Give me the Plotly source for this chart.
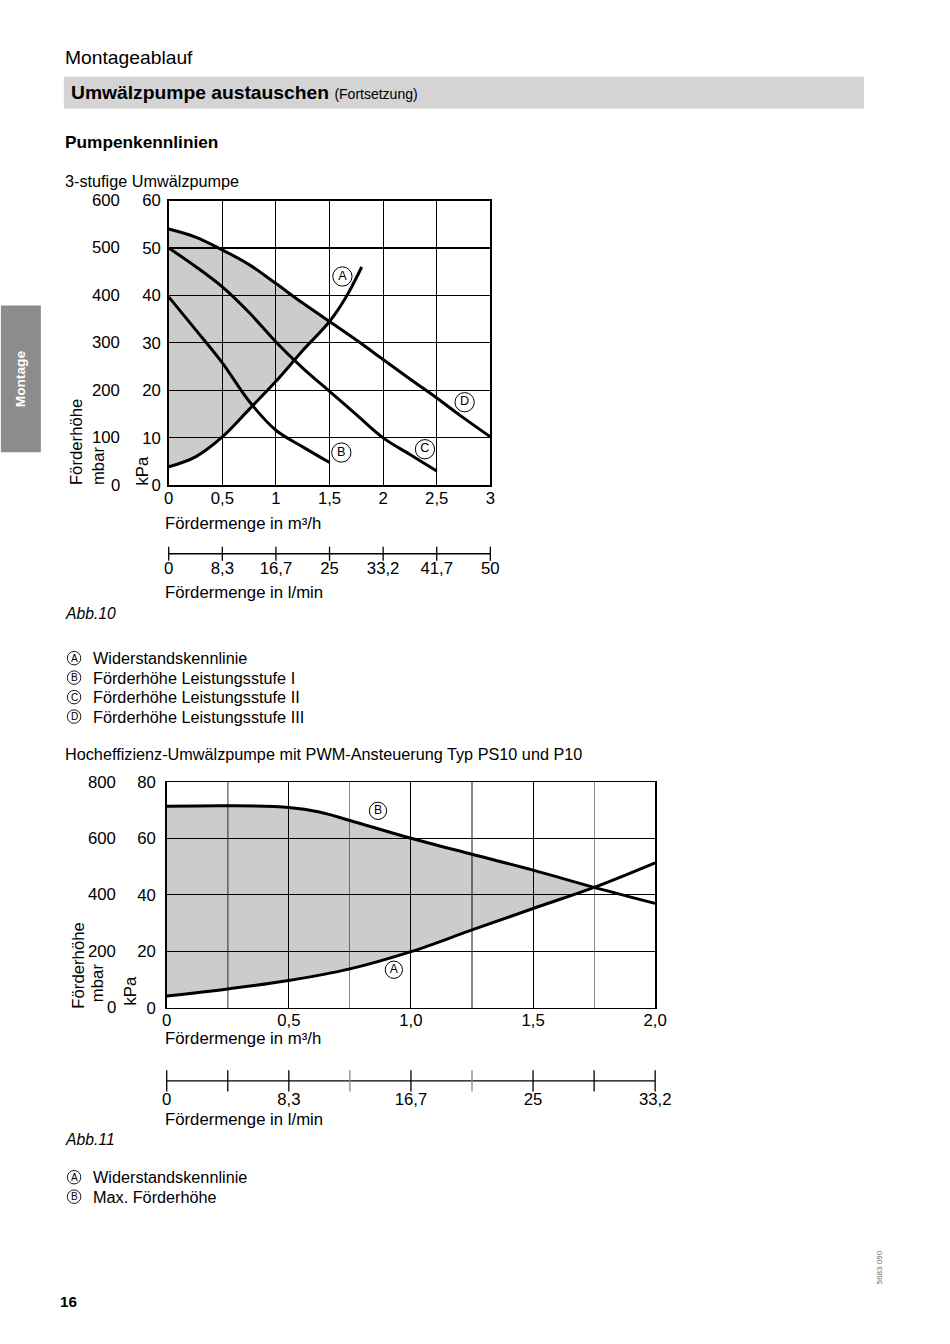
import plotly.graph_objects as go

W, H = 950, 1344
FONT = "Liberation Sans, Arial, Helvetica, sans-serif"

# measured mapping of the page onto the photographed picture (picture = s*page + b)
SX, BX = 0.979, 4.1
SY, BY = 0.9867, 8.3
K = 1.015  # size compensation for the picture scaling


def fx(p):
    return ((p - BX) / SX) / W


def fy(p):
    return 1 - ((p - BY) / SY) / H


# ---------------- Chart 1: 3-stufige Umwälzpumpe ----------------
c1_x_ticks = [0, 0.5, 1, 1.5, 2, 2.5, 3]
c1_x_ticktext = ["0", "0,5", "1", "1,5", "2", "2,5", "3"]
c1_lmin_text = ["0", "8,3", "16,7", "25", "33,2", "41,7", "50"]
c1_kpa_ticks = [0, 10, 20, 30, 40, 50, 60]
c1_mbar_ticks = [0, 100, 200, 300, 400, 500, 600]

a1_flow = [0, 0.25, 0.5, 0.75, 1.0, 1.25, 1.5, 1.65, 1.8]
a1_head = [3.9, 6.0, 10.2, 16.0, 21.9, 28.4, 34.5, 39.5, 46.0]
b1_flow = [0, 0.25, 0.5, 0.75, 1.0, 1.25, 1.5]
b1_head = [39.7, 32.8, 25.8, 17.7, 11.6, 8.1, 4.8]
c1_flow = [0, 0.25, 0.5, 0.75, 1.0, 1.25, 1.5, 1.75, 2.0, 2.25, 2.5]
c1_head = [50.0, 46.1, 41.8, 36.4, 30.2, 24.7, 19.8, 14.9, 10.0, 6.5, 3.0]
d1_flow = [0, 0.25, 0.5, 0.75, 1.0, 1.25, 1.5, 1.75, 2.0, 2.25, 2.5, 2.75, 3.0]
d1_head = [54.0, 52.3, 49.6, 46.5, 42.5, 38.4, 34.5, 30.6, 26.5, 22.4, 18.4, 14.2, 10.2]
c1_fill_n = 7  # points up to the A/D intersection (1.5 m³/h)

c1_labels = ["A", "B", "C", "D"]
c1_label_x = [1.62, 1.61, 2.39, 2.76]
c1_label_y = [44.0, 6.9, 7.6, 17.5]

c1_legend = ["Widerstandskennlinie", "Förderhöhe Leistungsstufe I",
             "Förderhöhe Leistungsstufe II", "Förderhöhe Leistungsstufe III"]

# ---------------- Chart 2: Hocheffizienz-Umwälzpumpe ----------------
c2_x_ticks = [0, 0.5, 1.0, 1.5, 2.0]
c2_x_ticktext = ["0", "0,5", "1,0", "1,5", "2,0"]
c2_lmin_text = ["0", "8,3", "16,7", "25", "33,2"]
c2_lmin_marks = [0, 0.25, 0.5, 0.75, 1.0, 1.25, 1.5, 1.75, 2.0]
c2_light_marks = [0.75, 1.25]
c2_dark_quarter_grid = [0.25]
c2_kpa_ticks = [0, 20, 40, 60, 80]
c2_mbar_ticks = [0, 200, 400, 600, 800]

a2_flow = [0, 0.25, 0.5, 0.75, 1.0, 1.25, 1.5, 1.75, 2.0]
a2_head = [4.2, 6.7, 9.7, 13.8, 19.9, 27.6, 35.2, 42.7, 51.4]
b2_flow = [0, 0.25, 0.5, 0.625, 0.75, 1.0, 1.25, 1.5, 1.75, 2.0]
b2_head = [71.4, 71.6, 71.0, 69.4, 66.4, 60.1, 54.4, 48.8, 42.7, 37.0]
c2_fill_a = 8  # A points up to intersection (1.75)
c2_fill_b = 9  # B points up to intersection (1.75)

c2_labels = ["B", "A"]
c2_label_x = [0.865, 0.93]
c2_label_y = [69.8, 13.5]

c2_legend = ["Widerstandskennlinie", "Max. Förderhöhe"]

# ---------------- Layout geometry (target pixels) ----------------
P1 = dict(l=168, r=490, t=200, b=485)
P2 = dict(l=166, r=655, t=782, b=1008)
L1_Y = 553.5   # l/min scale line chart 1
L2_Y = 1081    # l/min scale line chart 2

fig = go.Figure()

BLACK = "#000000"
FILL = "rgba(0,0,0,0.2)"

# ---- chart 1 traces ----
fig.add_trace(go.Scatter(x=d1_flow[:c1_fill_n], y=d1_head[:c1_fill_n], xaxis="x", yaxis="y",
                         mode="lines", line=dict(width=0, shape="spline"),
                         hoverinfo="skip", showlegend=False))
fig.add_trace(go.Scatter(x=a1_flow[:c1_fill_n], y=a1_head[:c1_fill_n], xaxis="x", yaxis="y",
                         mode="lines", line=dict(width=0, shape="spline"),
                         fill="tonexty", fillcolor=FILL, hoverinfo="skip", showlegend=False))
for fx_, fy_ in [(a1_flow, a1_head), (b1_flow, b1_head), (c1_flow, c1_head), (d1_flow, d1_head)]:
    fig.add_trace(go.Scatter(x=fx_, y=fy_, xaxis="x", yaxis="y", mode="lines",
                             line=dict(color=BLACK, width=3, shape="spline"),
                             hoverinfo="skip", showlegend=False))
fig.add_trace(go.Scatter(x=c1_label_x, y=c1_label_y, xaxis="x", yaxis="y",
                         mode="markers+text", text=c1_labels, textposition="middle center",
                         textfont=dict(family=FONT, size=12.5 * K, color=BLACK),
                         marker=dict(symbol="circle", size=19 * K, color="white",
                                     line=dict(color=BLACK, width=1)),
                         cliponaxis=False, hoverinfo="skip", showlegend=False))

# ---- chart 1 l/min scale ----
fig.add_trace(go.Scatter(x=[c1_x_ticks[0], c1_x_ticks[-1]], y=[0, 0], xaxis="x3", yaxis="y3",
                         mode="lines", line=dict(color=BLACK, width=1.3),
                         hoverinfo="skip", showlegend=False))
fig.add_trace(go.Scatter(x=c1_x_ticks, y=[0] * len(c1_x_ticks), xaxis="x3", yaxis="y3",
                         mode="markers", marker=dict(symbol="line-ns", size=10 * K,
                                                     line=dict(color=BLACK, width=1.3)),
                         cliponaxis=False, hoverinfo="skip", showlegend=False))

# ---- chart 2 traces ----
fig.add_trace(go.Scatter(x=b2_flow[:c2_fill_b], y=b2_head[:c2_fill_b], xaxis="x2", yaxis="y2",
                         mode="lines", line=dict(width=0, shape="spline"),
                         hoverinfo="skip", showlegend=False))
fig.add_trace(go.Scatter(x=a2_flow[:c2_fill_a], y=a2_head[:c2_fill_a], xaxis="x2", yaxis="y2",
                         mode="lines", line=dict(width=0, shape="spline"),
                         fill="tonexty", fillcolor=FILL, hoverinfo="skip", showlegend=False))
for fx_, fy_ in [(a2_flow, a2_head), (b2_flow, b2_head)]:
    fig.add_trace(go.Scatter(x=fx_, y=fy_, xaxis="x2", yaxis="y2", mode="lines",
                             line=dict(color=BLACK, width=3, shape="spline"),
                             hoverinfo="skip", showlegend=False))
fig.add_trace(go.Scatter(x=c2_label_x, y=c2_label_y, xaxis="x2", yaxis="y2",
                         mode="markers+text", text=c2_labels, textposition="middle center",
                         textfont=dict(family=FONT, size=12 * K, color=BLACK),
                         marker=dict(symbol="circle", size=17 * K, color="white",
                                     line=dict(color=BLACK, width=1)),
                         cliponaxis=False, hoverinfo="skip", showlegend=False))

# ---- chart 2 l/min scale ----
fig.add_trace(go.Scatter(x=[c2_x_ticks[0], c2_x_ticks[-1]], y=[0, 0], xaxis="x4", yaxis="y4",
                         mode="lines", line=dict(color=BLACK, width=1.3),
                         hoverinfo="skip", showlegend=False))
mark_colors = ["#888888" if v in c2_light_marks else BLACK for v in c2_lmin_marks]
fig.add_trace(go.Scatter(x=c2_lmin_marks, y=[0] * len(c2_lmin_marks), xaxis="x4", yaxis="y4",
                         mode="markers", marker=dict(symbol="line-ns", size=15 * K,
                                                     line=dict(color=mark_colors, width=1.3)),
                         cliponaxis=False, hoverinfo="skip", showlegend=False))

TICKFONT = dict(family=FONT, size=16.5 * K, color=BLACK)
axis_common = dict(showgrid=True, gridcolor=BLACK, gridwidth=1.1, showline=True,
                   linecolor=BLACK, linewidth=1.5, mirror=True, ticks="",
                   zeroline=False, tickfont=TICKFONT, fixedrange=True)

layout = dict(
    width=W, height=H, autosize=False,
    margin=dict(l=0, r=0, t=0, b=0),
    paper_bgcolor="white", plot_bgcolor="rgba(0,0,0,0)",
    font=dict(family=FONT, color=BLACK),
    showlegend=False,
    xaxis=dict(domain=[fx(P1["l"]), fx(P1["r"])], range=[0, 3], anchor="y",
               tickvals=c1_x_ticks, ticktext=c1_x_ticktext, ticklabelstandoff=-3, **axis_common),
    yaxis=dict(domain=[fy(P1["b"]), fy(P1["t"])], range=[0, 60], anchor="x",
               tickvals=c1_kpa_ticks, ticklabelstandoff=3, **axis_common),
    xaxis2=dict(domain=[fx(P2["l"]), fx(P2["r"])], range=[0, 2], anchor="y2",
                tickvals=c2_x_ticks, ticktext=c2_x_ticktext, ticklabelstandoff=-3,
                minor=dict(dtick=0.25, tick0=0, showgrid=True, gridcolor="#888888", gridwidth=1.1),
                **axis_common),
    yaxis2=dict(domain=[fy(P2["b"]), fy(P2["t"])], range=[0, 80], anchor="x2",
                tickvals=c2_kpa_ticks, ticklabelstandoff=6, **axis_common),
    xaxis3=dict(domain=[fx(P1["l"]), fx(P1["r"])], range=[0, 3], anchor="y3",
                tickvals=c1_x_ticks, ticktext=c1_lmin_text, showgrid=False, showline=False,
                zeroline=False, ticks="", tickfont=TICKFONT, fixedrange=True,
                ticklabelstandoff=-1),
    yaxis3=dict(domain=[fy(L1_Y + 4), fy(L1_Y - 4)], range=[-1, 1], anchor="x3",
                visible=False, fixedrange=True),
    xaxis4=dict(domain=[fx(P2["l"]), fx(P2["r"])], range=[0, 2], anchor="y4",
                tickvals=c2_x_ticks, ticktext=c2_lmin_text, showgrid=False, showline=False,
                zeroline=False, ticks="", tickfont=TICKFONT, fixedrange=True,
                ticklabelstandoff=-1),
    yaxis4=dict(domain=[fy(L2_Y + 7), fy(L2_Y - 7)], range=[-1, 1], anchor="x4",
                visible=False, fixedrange=True),
)
fig.update_layout(**layout)

ann = []
shapes = []


def text(x, y, s, size=16, xanchor="left", yanchor="middle", **kw):
    ann.append(dict(x=fx(x), y=fy(y), xref="paper", yref="paper", text=s, showarrow=False,
                    xanchor=xanchor, yanchor=yanchor,
                    font=dict(family=FONT, size=size * K, color=kw.pop("color", BLACK)), **kw))


# header
text(62, 57, "Montageablauf", size=19)
shapes.append(dict(type="rect", xref="paper", yref="paper", x0=fx(63), x1=fx(864),
                   y0=fy(108), y1=fy(76), fillcolor="#d4d4d4", line=dict(width=0), layer="below"))
text(68, 92, "<b>Umwälzpumpe austauschen</b> <span style='font-size:14px'>(Fortsetzung)</span>", size=19)
text(62, 141, "<b>Pumpenkennlinien</b>", size=17)
text(62, 180, "3-stufige Umwälzpumpe", size=16)

# side tab
shapes.append(dict(type="rect", xref="paper", yref="paper", x0=fx(0), x1=fx(40),
                   y0=fy(452), y1=fy(305), fillcolor="#8c8c8c", line=dict(width=0), layer="below"))
text(20, 378, "<b>Montage</b>", size=13.5, xanchor="center", color="white", textangle=-90)

# chart 2 darker quarter grid line(s)
for gx in c2_dark_quarter_grid:
    shapes.append(dict(type="line", xref="x2", yref="y2 domain", x0=gx, x1=gx, y0=0, y1=1,
                       line=dict(color=BLACK, width=1.1), layer="below"))

# chart 1 side labels
for v in c1_mbar_ticks:
    ann.append(dict(x=fx(121), y=v / 10, xref="paper", yref="y", text=str(v), showarrow=False,
                    xanchor="right", yanchor="middle", font=TICKFONT))
text(75.5, 487, "Förderhöhe", size=16.5, xanchor="center", yanchor="bottom", textangle=-90)
text(97.5, 487, "mbar", size=16.5, xanchor="center", yanchor="bottom", textangle=-90)
text(141.5, 487, "kPa", size=16.5, xanchor="center", yanchor="bottom", textangle=-90)
text(162, 523, "Fördermenge in m³/h", size=16.5)
text(162, 592, "Fördermenge in l/min", size=16.5)
text(62, 613, "<i>Abb.10</i>", size=15.5)

# legend 1
leg1_y = [658, 677.5, 697, 716.5]
for lab, s, yy in zip(c1_labels, c1_legend, leg1_y):
    shapes.append(dict(type="circle", xref="paper", yref="paper", x0=fx(66.5), x1=fx(80),
                       y0=fy(yy + 6.75), y1=fy(yy - 6.75), line=dict(color=BLACK, width=0.9)))
    text(73.3, yy, lab, size=10, xanchor="center")
    text(90, yy, s, size=16)

# chart 2 texts
text(62, 754, "Hocheffizienz-Umwälzpumpe mit PWM-Ansteuerung Typ PS10 und P10", size=16)
for v in c2_mbar_ticks:
    ann.append(dict(x=fx(117), y=v / 10, xref="paper", yref="y2", text=str(v), showarrow=False,
                    xanchor="right", yanchor="middle", font=TICKFONT))
text(77.5, 1011, "Förderhöhe", size=16.5, xanchor="center", yanchor="bottom", textangle=-90)
text(97, 1004, "mbar", size=16.5, xanchor="center", yanchor="bottom", textangle=-90)
text(130, 1008, "kPa", size=16.5, xanchor="center", yanchor="bottom", textangle=-90)
text(162, 1039, "Fördermenge in m³/h", size=16.5)
text(162, 1120, "Fördermenge in l/min", size=16.5)
text(62, 1140, "<i>Abb.11</i>", size=15.5)

leg2_y = [1177.5, 1197]
for lab, s, yy in zip(["A", "B"], c2_legend, leg2_y):
    shapes.append(dict(type="circle", xref="paper", yref="paper", x0=fx(66.5), x1=fx(80),
                       y0=fy(yy + 6.75), y1=fy(yy - 6.75), line=dict(color=BLACK, width=0.9)))
    text(73.3, yy, lab, size=10, xanchor="center")
    text(90, yy, s, size=16)

# footer
text(57, 1302, "<b>16</b>", size=15)
text(880, 1268, "5683 090", size=8, xanchor="center", textangle=-90, color="#777777")

fig.update_layout(annotations=ann, shapes=shapes)
fig.write_html(
    "out.html",
    config={"displayModeBar": False, "staticPlot": True},
    post_script="document.body.style.margin='0';document.body.style.padding='0';"
                "document.documentElement.style.overflow='hidden';",
)
